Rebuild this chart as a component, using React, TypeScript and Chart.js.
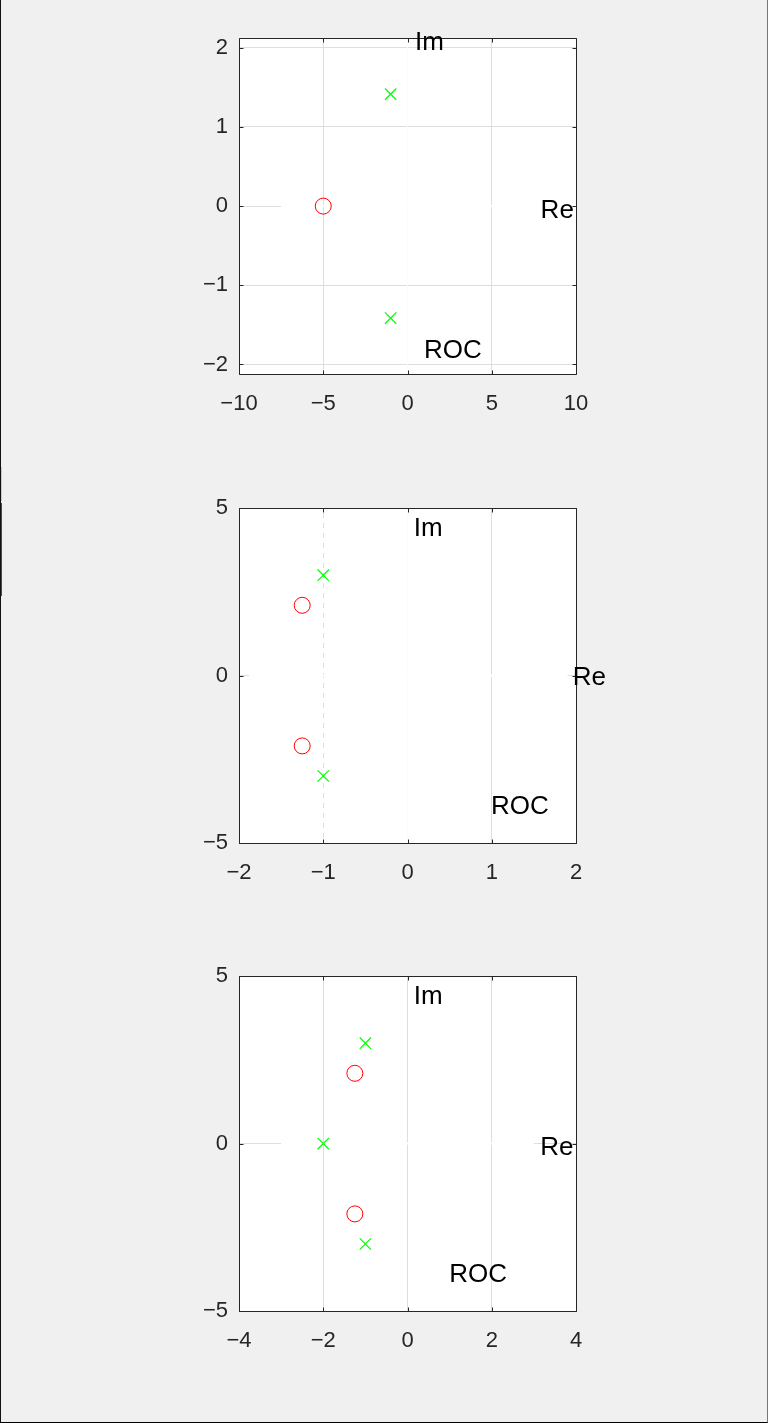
import React, { useEffect, useRef } from "react";
import { Chart, registerables } from "chart.js";

Chart.register(...registerables);

// ---------- Plot 1 ----------
const zerosRe1 = [-5];
const zerosIm1 = [0];
const polesRe1 = [-1, -1];
const polesIm1 = [1.414, -1.414];
const xTicks1 = [-10, -5, 0, 5, 10];
const yTicks1 = [-2, -1, 0, 1, 2];
const xLim1 = [-10, 10];
const yLim1 = [-2.12, 2.12];
const annoRe1 = [0.45, 7.9, 0.98];
const annoIm1 = [2.09, -0.03, -1.8];
const reAxisSpan1 = [-7.5, 10];
const imAxisSpan1 = [-2.12, 2.12];

// ---------- Plot 2 ----------
const zerosRe2 = [-1.25, -1.25];
const zerosIm2 = [2.1, -2.1];
const polesRe2 = [-1, -1];
const polesIm2 = [3, -3];
const xTicks2 = [-2, -1, 0, 1, 2];
const yTicks2 = [-5, 0, 5];
const xLim2 = [-2, 2];
const yLim2 = [-5, 5];
const annoRe2 = [0.075, 1.96, 0.99];
const annoIm2 = [4.44, -0.01, -3.85];
const reAxisSpan2 = [-1.88, 1.9];
const imAxisSpan2 = [-5, 5];

// ---------- Plot 3 ----------
const zerosRe3 = [-1.25, -1.25];
const zerosIm3 = [2.1, -2.1];
const polesRe3 = [-1, -1, -2];
const polesIm3 = [3, -3, 0];
const xTicks3 = [-4, -2, 0, 2, 4];
const yTicks3 = [-5, 0, 5];
const xLim3 = [-4, 4];
const yLim3 = [-5, 5];
const annoRe3 = [0.15, 3.15, 0.99];
const annoIm3 = [4.44, -0.07, -3.86];
const reAxisSpan3 = [-3, 3];
const imAxisSpan3: number[] = [];

// shared
const annoText = ["Im", "Re", "ROC"];
const rocBoundaryRe = -1;

const FONT = "'Liberation Sans', Arial, Helvetica, sans-serif";
const GRID = "#dedede";
const AXIS = "#262626";

const fmt = (v: number) => (v < 0 ? "\u2212" + Math.abs(v) : String(v));

type PlotDef = {
  zRe: number[];
  zIm: number[];
  pRe: number[];
  pIm: number[];
  xTicks: number[];
  yTicks: number[];
  xLim: number[];
  yLim: number[];
  aRe: number[];
  aIm: number[];
  reSpan: number[];
  imSpan: number[];
  imAxisAlpha: number;
  layout: { left: number; top: number; w: number; h: number; pl: number; pr: number; pt: number; pb: number };
};

function buildConfig(d: PlotDef): any {
  const datasets: any[] = [
    {
      data: d.zRe.map((x, i) => ({ x, y: d.zIm[i] })),
      pointStyle: "circle",
      pointRadius: 8,
      pointHoverRadius: 8,
      pointBorderColor: "#ff0000",
      pointBackgroundColor: "rgba(0,0,0,0)",
      pointBorderWidth: 1,
      showLine: false,
      order: 0,
    },
    {
      data: d.pRe.map((x, i) => ({ x, y: d.pIm[i] })),
      pointStyle: "crossRot",
      pointRadius: 8,
      pointHoverRadius: 8,
      pointBorderColor: "#00ff00",
      pointBackgroundColor: "#00ff00",
      pointBorderWidth: 1.2,
      showLine: false,
      order: 0,
    },
    {
      data: [
        { x: rocBoundaryRe, y: d.yLim[0] },
        { x: rocBoundaryRe, y: d.yLim[1] },
      ],
      showLine: true,
      borderColor: "#ffffff",
      borderWidth: 2,
      borderDash: [5, 5],
      pointRadius: 0,
      order: 3,
    },
    {
      data: [
        { x: d.reSpan[0], y: 0 },
        { x: d.reSpan[1], y: 0 },
      ],
      showLine: true,
      borderColor: "#ffffff",
      borderWidth: 2,
      pointRadius: 0,
      order: 2,
    },
  ];
  if (d.imSpan.length === 2) {
    datasets.push({
      data: [
        { x: 0, y: d.imSpan[0] },
        { x: 0, y: d.imSpan[1] },
      ],
      showLine: true,
      borderColor: `rgba(255,255,255,${d.imAxisAlpha})`,
      borderWidth: 1,
      pointRadius: 0,
      order: 2,
    });
  }

  const plugin = {
    id: "pzDecor",
    beforeDraw(chart: any) {
      const { ctx, chartArea } = chart;
      ctx.save();
      ctx.fillStyle = "#ffffff";
      ctx.fillRect(chartArea.left, chartArea.top, chartArea.right - chartArea.left, chartArea.bottom - chartArea.top);
      ctx.restore();
    },
    afterDatasetsDraw(chart: any) {
      const { ctx, chartArea } = chart;
      const xs = chart.scales.x;
      const ys = chart.scales.y;
      const L = Math.round(chartArea.left) + 0.5;
      const R = Math.round(chartArea.right) + 0.5;
      const T = Math.round(chartArea.top) + 0.5;
      const B = Math.round(chartArea.bottom) + 0.5;
      ctx.save();
      ctx.strokeStyle = AXIS;
      ctx.lineWidth = 1;
      ctx.beginPath();
      ctx.rect(L, T, R - L, B - T);
      const tl = 4;
      d.xTicks.forEach((v) => {
        const px = Math.round(xs.getPixelForValue(v)) + 0.5;
        ctx.moveTo(px, B);
        ctx.lineTo(px, B - tl);
        ctx.moveTo(px, T);
        ctx.lineTo(px, T + tl);
      });
      d.yTicks.forEach((v) => {
        const py = Math.round(ys.getPixelForValue(v)) + 0.5;
        ctx.moveTo(L, py);
        ctx.lineTo(L + tl, py);
        ctx.moveTo(R, py);
        ctx.lineTo(R - tl, py);
      });
      ctx.stroke();
      ctx.restore();
    },
    afterDraw(chart: any) {
      const { ctx } = chart;
      const xs = chart.scales.x;
      const ys = chart.scales.y;
      ctx.save();
      ctx.fillStyle = "#000000";
      ctx.font = `26px ${FONT}`;
      ctx.textAlign = "left";
      ctx.textBaseline = "alphabetic";
      annoText.forEach((t, i) => {
        const px = xs.getPixelForValue(d.aRe[i]);
        const py = ys.getPixelForValue(d.aIm[i]) + 0.358 * 26;
        ctx.fillText(t, px, py);
      });
      ctx.restore();
    },
  };

  const tickFont = { family: FONT, size: 22 };
  return {
    type: "scatter",
    data: { datasets },
    plugins: [plugin],
    options: {
      animation: false,
      responsive: false,
      maintainAspectRatio: false,
      events: [],
      layout: {
        padding: { left: d.layout.pl, right: d.layout.pr, top: d.layout.pt, bottom: d.layout.pb },
      },
      plugins: { legend: { display: false }, tooltip: { enabled: false } },
      scales: {
        x: {
          type: "linear",
          min: d.xLim[0],
          max: d.xLim[1],
          afterBuildTicks: (axis: any) => {
            axis.ticks = d.xTicks.map((v) => ({ value: v }));
          },
          afterFit: (axis: any) => {
            axis.height = 40;
          },
          grid: { color: GRID, lineWidth: 1, drawTicks: false },
          border: { display: false },
          ticks: {
            autoSkip: false,
            maxRotation: 0,
            padding: 17,
            color: AXIS,
            font: tickFont,
            callback: (v: any) => fmt(Number(v)),
          },
        },
        y: {
          type: "linear",
          min: d.yLim[0],
          max: d.yLim[1],
          afterBuildTicks: (axis: any) => {
            axis.ticks = d.yTicks.map((v) => ({ value: v }));
          },
          afterFit: (axis: any) => {
            axis.width = 50;
          },
          grid: { color: GRID, lineWidth: 1, drawTicks: false },
          border: { display: false },
          ticks: {
            autoSkip: false,
            padding: 11,
            color: AXIS,
            font: tickFont,
            callback: (v: any) => fmt(Number(v)),
          },
        },
      },
    },
  };
}

const plots: PlotDef[] = [
  {
    zRe: zerosRe1, zIm: zerosIm1, pRe: polesRe1, pIm: polesIm1,
    xTicks: xTicks1, yTicks: yTicks1, xLim: xLim1, yLim: yLim1,
    aRe: annoRe1, aIm: annoIm1, reSpan: reAxisSpan1, imSpan: imAxisSpan1, imAxisAlpha: 0.9,
    layout: { left: 178, top: 14, w: 460, h: 406, pl: 10, pr: 63, pt: 18, pb: 6 },
  },
  {
    zRe: zerosRe2, zIm: zerosIm2, pRe: polesRe2, pIm: polesIm2,
    xTicks: xTicks2, yTicks: yTicks2, xLim: xLim2, yLim: yLim2,
    aRe: annoRe2, aIm: annoIm2, reSpan: reAxisSpan2, imSpan: imAxisSpan2, imAxisAlpha: 0.9,
    layout: { left: 178, top: 484, w: 460, h: 405, pl: 10, pr: 63, pt: 18, pb: 6 },
  },
  {
    zRe: zerosRe3, zIm: zerosIm3, pRe: polesRe3, pIm: polesIm3,
    xTicks: xTicks3, yTicks: yTicks3, xLim: xLim3, yLim: yLim3,
    aRe: annoRe3, aIm: annoIm3, reSpan: reAxisSpan3, imSpan: imAxisSpan3, imAxisAlpha: 0.9,
    layout: { left: 178, top: 952, w: 460, h: 405, pl: 10, pr: 63, pt: 18, pb: 6 },
  },
];

function PZPlot({ def }: { def: PlotDef }) {
  const ref = useRef<HTMLCanvasElement>(null);
  useEffect(() => {
    if (!ref.current) return;
    const chart = new Chart(ref.current, buildConfig(def));
    return () => chart.destroy();
  }, [def]);
  const { left, top, w, h } = def.layout;
  return (
    <canvas
      ref={ref}
      width={w}
      height={h}
      style={{ position: "absolute", left, top, width: w, height: h, display: "block" }}
    />
  );
}

export default function App() {
  return (
    <div
      style={{
        position: "absolute",
        left: 0,
        top: 0,
        width: 768,
        height: 1423,
        background: "#f0f0f0",
        boxSizing: "border-box",
        borderLeft: "1px solid #111",
        borderBottom: "1px solid #000",
        borderRight: "1px solid #777",
        overflow: "hidden",
      }}
    >
      <div style={{ position: "absolute", left: -1, top: 503, width: 2, height: 93, background: "#3a3ac8" }} />
      <div style={{ position: "absolute", left: -1, top: 467, width: 2, height: 34, background: "#c8c8c8" }} />
      {plots.map((p, i) => (
        <PZPlot key={i} def={p} />
      ))}
    </div>
  );
}
